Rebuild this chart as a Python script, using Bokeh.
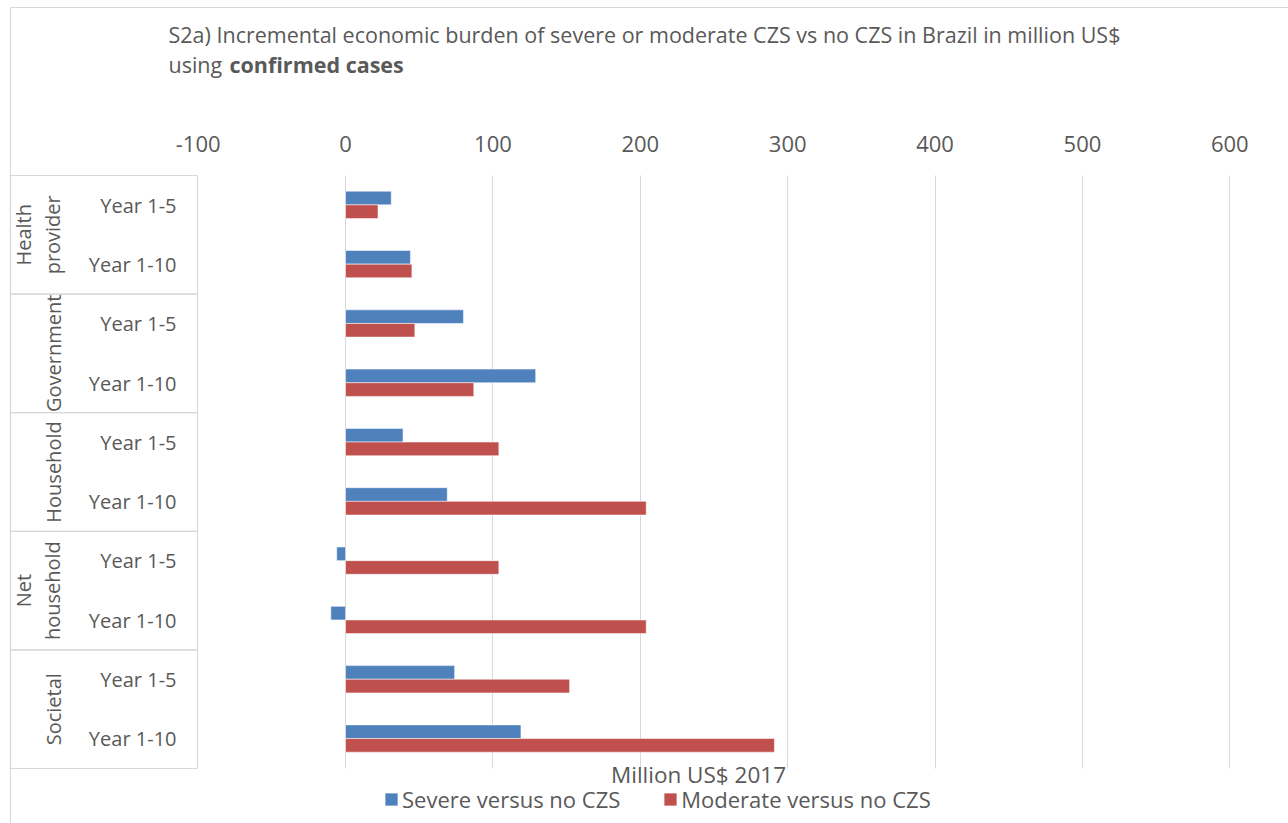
import math
from bokeh.plotting import figure
from bokeh.models import (Range1d, FixedTicker, ColumnDataSource, Legend, LegendItem,
                          NumeralTickFormatter, Grid)
from bokeh.transform import dodge
from bokeh.core.properties import value
from bokeh.embed import file_html
from bokeh.resources import INLINE

# ---------------- data ----------------
groups = ["Health provider", "Government", "Household", "Net household", "Societal"]
group_labels = ["Health\nprovider", "Government", "Household", "Net\nhousehold", "Societal"]
years = ["Year 1-5", "Year 1-10"]
severe = [31, 44, 80, 129, 39, 69, -6, -10, 74, 119]
moderate = [22, 45, 47, 87, 104, 204, 104, 204, 152, 291]
x_ticks = [-100, 0, 100, 200, 300, 400, 500, 600]
grid_ticks = [0, 100, 200, 300, 400, 500, 600]
series_names = ["Severe versus no CZS", "Moderate versus no CZS"]
title_line1 = "S2a) Incremental economic burden of severe or moderate CZS vs no CZS in Brazil in million US$"
title_line2a = "using "
title_line2b = "confirmed cases"
x_title = "Million US$ 2017"

# ---------------- layout / style ----------------
W, H = 1288, 823
TOP_FRAME, BOT_FRAME = 175, 768          # page pixels of the bar area
NROWS = len(groups) * len(years)
ROW = (BOT_FRAME - TOP_FRAME) / NROWS     # pixels per category row
FONT = "Open Sans"
TXT = "#595959"
GRID = "#d9d9d9"
BLUE = "#4F81BD"
RED = "#C0504D"

rows = list(range(NROWS))
row_c = [i + 0.5 for i in rows]
year_text = [y for g in groups for y in years]
group_c = [2 * g + 1 for g in range(len(groups))]

p = figure(width=W, height=H, output_backend="svg", toolbar_location=None,
           x_range=Range1d(-234.15, 639.83),
           y_range=Range1d((H - TOP_FRAME) / ROW, -TOP_FRAME / ROW),
           x_axis_location="above", y_axis_location=None, min_border=0)
p.min_border_left = p.min_border_right = p.min_border_top = p.min_border_bottom = 0
p.outline_line_color = None
p.extra_x_ranges = {"px": Range1d(0, W)}
p.extra_y_ranges = {"py": Range1d(H, 0)}

# top value axis (kept inside the canvas at the top of the bar area)
ax = p.xaxis[0]
ax.fixed_location = 0
ax.ticker = FixedTicker(ticks=x_ticks)
ax.formatter = NumeralTickFormatter(format="0")
ax.axis_line_color = None
ax.major_tick_line_color = None
ax.minor_tick_line_color = None
ax.major_label_text_font = FONT
ax.major_label_text_font_size = "22px"
ax.major_label_text_color = TXT
ax.major_label_standoff = 18

# vertical gridlines limited to the bar area
p.ygrid.visible = False
xg = p.xgrid[0]
xg.ticker = FixedTicker(ticks=grid_ticks)
xg.grid_line_color = GRID
if "cross_bounds" in Grid.properties():
    xg.cross_bounds = (0, NROWS)
else:
    xg.visible = False
    p.segment(x0=grid_ticks, x1=grid_ticks, y0=0, y1=NROWS, line_color=GRID, level="underlay")

src = ColumnDataSource(dict(row=row_c, severe=severe, moderate=moderate, year=year_text))
bar_style = dict(source=src, height=0.23, left=0, line_color="white", line_alpha=0.5)
r1 = p.hbar(y=dodge("row", -0.12), right="severe", fill_color=BLUE, **bar_style)
r2 = p.hbar(y=dodge("row", 0.11), right="moderate", fill_color=RED, **bar_style)

# outer chart border (top and left)
p.segment(x0=[10, 10], y0=[7, 7], x1=[W, 10], y1=[7, H], line_color=GRID, line_width=1.2,
          x_range_name="px", y_range_name="py")

# category "table" on the left
gsrc = ColumnDataSource(dict(gc=group_c, label=group_labels))
p.rect(x=103.5, y="gc", width=187, height=2, source=gsrc, x_range_name="px",
       fill_color=None, line_color=GRID, line_width=1.2)
p.text(x=66, y="gc", text="label", source=gsrc, x_range_name="px",
       angle=math.pi / 2, text_align="center", text_baseline="bottom",
       text_font=value(FONT), text_font_size="20px", text_color=TXT,
       text_line_height=1.1)
p.text(x=176, y="row", text="year", source=src, x_range_name="px",
       text_align="right", text_baseline="middle",
       text_font=value(FONT), text_font_size="20px", text_color=TXT)

# title
tsty = dict(text_font=value(FONT), text_font_size="21.5px", text_color=TXT,
            text_baseline="alphabetic", text_align="left",
            x_range_name="px", y_range_name="py")
p.text(x=[168], y=[34], text=[title_line1], **tsty)
p.text(x=[168], y=[64], text=[title_line2a], **tsty)
p.text(x=[229], y=[64], text=[title_line2b], text_font_style="bold", **tsty)

# value-axis title
p.text(x=[698], y=[774], text=[x_title], text_font=value(FONT), text_font_size="22.5px",
       text_color=TXT, text_align="center", text_baseline="alphabetic",
       x_range_name="px", y_range_name="py")

legend = Legend(items=[LegendItem(label=series_names[0], renderers=[r1]),
                       LegendItem(label=series_names[1], renderers=[r2])],
                orientation="horizontal", location=(383, 9),
                label_text_font=FONT, label_text_font_size="22px", label_text_color=TXT,
                glyph_width=16, glyph_height=16, label_standoff=3, spacing=42,
                padding=0, margin=0, border_line_color=None, background_fill_alpha=0)
p.add_layout(legend, "center")

open("out.html", "w").write(file_html(p, INLINE))
